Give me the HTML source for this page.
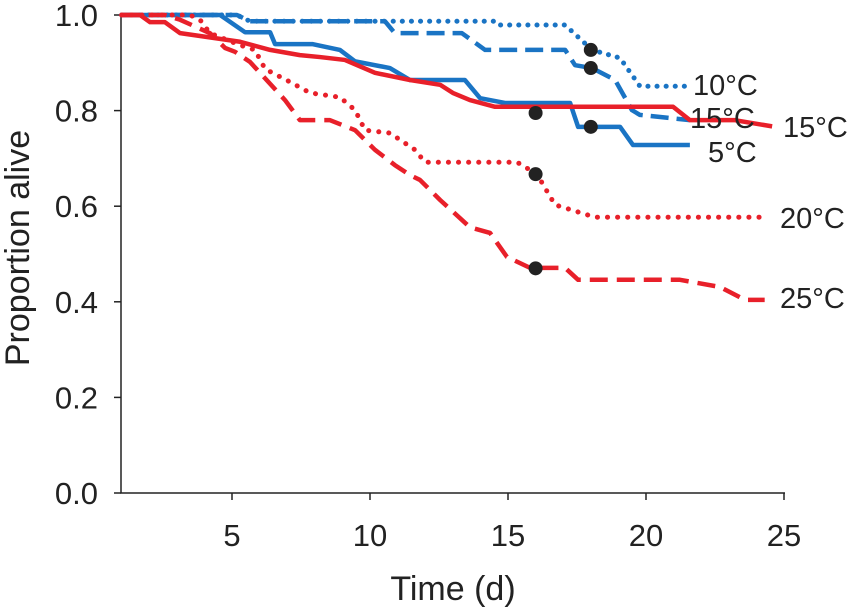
<!DOCTYPE html>
<html><head><meta charset="utf-8"><style>
body{margin:0;background:#fff;}
svg{display:block;font-family:"Liberation Sans",Arial,sans-serif;}
</style></head><body>
<svg id="chart" width="850" height="609"></svg>
<script>
const xTicks=[5,10,15,20,25];
const yTicks=[0.0,0.2,0.4,0.6,0.8,1.0];
const s5d=[1,4.57,5.47,6.38,6.56,7.93,8.91,9.46,10.72,11.45,13.44,13.99,14.89,17.25,17.54,19.06,19.53,21.59];
const s5v=[1,1,.964,.964,.939,.939,.927,.903,.889,.864,.864,.826,.816,.816,.766,.766,.728,.728];
const s10d=[1,5.18,5.65,14.6,14.71,17.07,17.97,18.04,19.06,19.78,21.59];
const s10v=[1,1,.987,.987,.979,.979,.931,.927,.91,.851,.851];
const s15bd=[1,5.18,5.65,10.54,10.9,13.33,14.17,17.07,17.43,18.04,18.88,19.49,19.78,21.59];
const s15bv=[1,1,.987,.987,.962,.962,.927,.927,.895,.889,.864,.801,.791,.78];
const s15rd=[1,1.67,2.03,2.57,3.12,5.29,6.38,7.46,8.19,9.09,10.18,11.45,12.54,13.0,13.62,14.53,20.98,21.59,23.22,24.57];
const s15rv=[1,1,.985,.985,.962,.944,.927,.916,.912,.906,.879,.864,.854,.837,.822,.808,.808,.78,.78,.767];
const s20d=[1,3.48,3.84,4.2,5.29,5.83,6.2,7.1,7.83,8.91,9.46,9.82,10.72,11.63,11.99,15.33,16.05,16.7,18.15,24.2];
const s20v=[1,1,.99,.962,.937,.927,.887,.86,.837,.828,.801,.759,.753,.718,.692,.692,.667,.603,.577,.577];
const s25d=[1,2.57,3.12,4.2,4.75,5.11,5.65,6.92,7.46,8.55,9.46,10.18,10.9,11.45,11.81,12.54,13.62,14.35,14.96,15.8,17.07,17.54,21.23,22.68,23.59,24.3];
const s25v=[1,1,.99,.962,.931,.923,.902,.822,.78,.78,.759,.718,.686,.665,.655,.613,.556,.544,.494,.471,.471,.446,.446,.431,.404,.404];
const markX=[16,16,16,18,18,18];
const markY=[.795,.667,.47,.927,.889,.766];
const labels=[["10°C",693,95],["15°C",690,128],["15°C",783,137],["5°C",708,162],["20°C",780,228],["25°C",780,308]];
const NS="http://www.w3.org/2000/svg";
const svg=document.getElementById('chart');
const X=d=>232+(d-5)*27.6, Y=v=>493-v*478;
function el(t,a,p){const e=document.createElementNS(NS,t);for(const k in a)e.setAttribute(k,a[k]);(p||svg).appendChild(e);return e;}
let ax=el('path',{d:'M121,15V493H785',fill:'none',stroke:'#222','stroke-width':1.5});


xTicks.forEach(t=>{
 const l=el('line',{x1:X(t),x2:X(t),y1:493,y2:500,stroke:'#222','stroke-width':1.5});
 
 
 const tx=el('text',{x:X(t),y:546,'text-anchor':'middle','font-size':31,fill:'#222'});tx.textContent=t;
 
 
});
yTicks.forEach(t=>{
 const l=el('line',{x1:114,x2:121,y1:Y(t),y2:Y(t),stroke:'#222','stroke-width':1.5});
 
 
 const tx=el('text',{x:98,y:Y(t)+11,'text-anchor':'end','font-size':31,fill:'#222'});tx.textContent=t.toFixed(1);
 
 
});
let xt=el('text',{x:453,y:600,'text-anchor':'middle','font-size':34,fill:'#222'});xt.textContent='Time (d)';


let yt=el('text',{x:0,y:0,'text-anchor':'middle','font-size':34,fill:'#222',transform:'translate(29,248) rotate(-90)'});yt.textContent='Proportion alive';


const blue='#1a74c4', red='#e8202a';
const series=[[s5d,s5v,blue,'',"line-5c"],[s10d,s10v,blue,'0.1 9',"line-10c"],[s15bd,s15bv,blue,'18 8',"line-15c-blue"],[s15rd,s15rv,red,'',"line-15c-red"],[s20d,s20v,red,'0.1 10',"line-20c"],[s25d,s25v,red,'18 9',"line-25c"]];
series.forEach(s=>{
 const pts=s[0].map((d,i)=>X(d)+','+Y(s[1][i])).join(' ');
 const dotted=s[3].startsWith('0.1');
 const p=el('polyline',{points:pts,fill:'none',stroke:s[2],'stroke-width':dotted?5:4.5,'stroke-dasharray':s[3]||'none','stroke-linecap':dotted?'round':'butt','stroke-linejoin':'round'});
 
 
});
markX.forEach((d,i)=>{
 const c=el('circle',{cx:X(d),cy:Y(markY[i]),r:7,fill:'#222'});
 
 
});
labels.forEach(l=>{
 const t=el('text',{x:l[1],y:l[2],'font-size':29,fill:'#222'});t.textContent=l[0];
 
 
});
</script>
</body></html>
